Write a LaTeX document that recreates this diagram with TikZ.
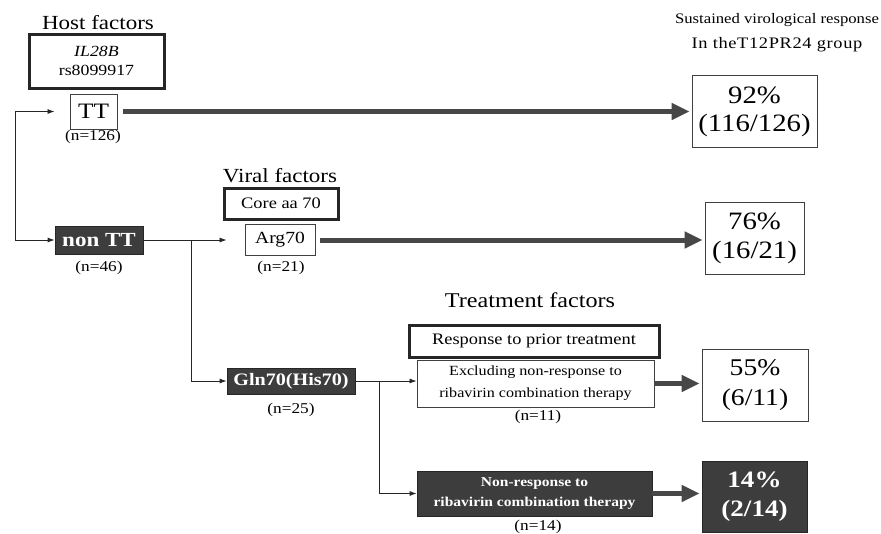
\documentclass[tikz,border=0pt]{standalone}
\usepackage{fontspec}
\setmainfont{Liberation Serif}[FakeStretch=1.15]
\usetikzlibrary{arrows.meta,calc}
\newcommand\fsz[2]{\fontsize{#1}{#2}\selectfont}
\begin{document}
\begin{tikzpicture}[x=1pt,y=-1pt,
  txt/.style={inner sep=0pt, align=center},
  nlab/.style={inner sep=0pt, font=\fsz{15}{17}},
  thinbox/.style={draw=black!75, line width=0.9pt, fill=white, inner sep=0pt, align=center},
  hdrbox/.style={draw=black!85, line width=3pt, fill=white, inner sep=0pt, align=center},
  darkbox/.style={draw=black!85, line width=0.8pt, fill=black!76, text=white, inner sep=0pt, align=center},
  thinarrow/.style={draw=black!85, line width=0.8pt, -{Latex[length=7pt,width=5pt]}},
  fatarrow/.style={draw=black!72, line width=5pt, -{Triangle[length=18pt,width=16pt]}}]
\useasboundingbox (0,0) rectangle (881,533);

% headings
\node[txt, font=\fsz{20}{24}] (host) at (98,23) {Host factors};
\node[txt, font=\fsz{20}{24}] (viral) at (280,176) {Viral factors};
\node[txt, font=\fsz{21}{25}] (treat) at (530,300) {Treatment factors};
\node[txt, font=\fsz{14.5}{18}] (svr1) at (777,20) {Sustained virological response};
\node[txt, font=\fsz{16}{19}\addfontfeature{LetterSpace=4}] (svr2) at (777,45) {In theT12PR24 group};

% host factor boxes
\node[hdrbox, minimum width=135, minimum height=54, font=\fsz{15.5}{19}] (il) at (96.5,61) {\textit{IL28B}\\rs8099917};
\node[thinbox, minimum width=47, minimum height=35, font=\fsz{22}{24}] (tt) at (93.5,111.5) {TT};
\node[nlab] (n126) at (93,137) {(n=126)};
\node[darkbox, minimum width=88, minimum height=28, font=\fsz{20}{22}\bfseries] (nontt) at (99,240) {non TT};
\node[nlab] (n46) at (99,268) {(n=46)};

% viral factor boxes
\node[hdrbox, minimum width=114, minimum height=31, font=\fsz{16}{18}] (core) at (281,203.5) {Core aa 70};
\node[thinbox, minimum width=70, minimum height=31, font=\fsz{17}{19}] (arg) at (280,240) {Arg70};
\node[nlab] (n21) at (281,268) {(n=21)};
\node[darkbox, minimum width=128, minimum height=26, font=\fsz{17.5}{19}\bfseries] (gln) at (291,381) {Gln70(His70)};
\node[nlab] (n25) at (291,410) {(n=25)};

% treatment factor boxes
\node[hdrbox, minimum width=250, minimum height=32, font=\fsz{16}{18}] (resp) at (534,341) {Response to prior treatment};
\node[thinbox, minimum width=237, minimum height=47, font=\fsz{14}{22}] (excl) at (535.5,383.5) {Excluding non-response to\\ribavirin combination therapy};
\node[nlab] (n11) at (538,417) {(n=11)};
\node[darkbox, minimum width=235, minimum height=45, font=\fsz{13.5}{20}\bfseries] (nonresp) at (534.5,493.5) {Non-response to\\ribavirin combination therapy};
\node[nlab] (n14) at (538,527) {(n=14)};

% result boxes
\node[thinbox, minimum width=125, minimum height=72, font=\fsz{25}{28}] (p92) at (754.5,111.5) {92\%\\(116/126)};
\node[thinbox, minimum width=99, minimum height=72, font=\fsz{25}{29}] (p76) at (754.5,238) {76\%\\(16/21)};
\node[thinbox, minimum width=106, minimum height=72, font=\fsz{24}{30}] (p55) at (755,385) {55\%\\(6/11)};
\node[darkbox, minimum width=105, minimum height=71, font=\fsz{23.5}{29}\bfseries] (p14) at (754.5,496.5) {14\%\\(2/14)};

% thin connectors
\draw[draw=black!85, line width=0.8pt, {Latex[length=7pt,width=5pt]}-{Latex[length=7pt,width=5pt]}, shorten <=15pt]
  (tt.west) -- ++(-54,0) |- (nontt.west);
\draw[thinarrow, shorten >=18pt] (nontt.east) -- (nontt.east -| arg.west);
\draw[thinarrow] ($(nontt.east)+(48,0)$) |- (gln.west);
\draw[thinarrow] (gln.east) -- (gln.east -| excl.west);
\draw[thinarrow] ($(gln.east)+(24,0)$) |- (nonresp.west);

% thick arrows
\draw[fatarrow] ([xshift=6pt]tt.east) -- ([xshift=-2pt]tt.east -| p92.west);
\draw[fatarrow] ([xshift=5pt]arg.east) -- ([xshift=-2pt]arg.east -| p76.west);
\draw[fatarrow] (excl.east) -- ([xshift=-2pt]excl.east -| p55.west);
\draw[fatarrow] (nonresp.east) -- ([xshift=-2pt]nonresp.east -| p14.west);
\end{tikzpicture}
\end{document}
